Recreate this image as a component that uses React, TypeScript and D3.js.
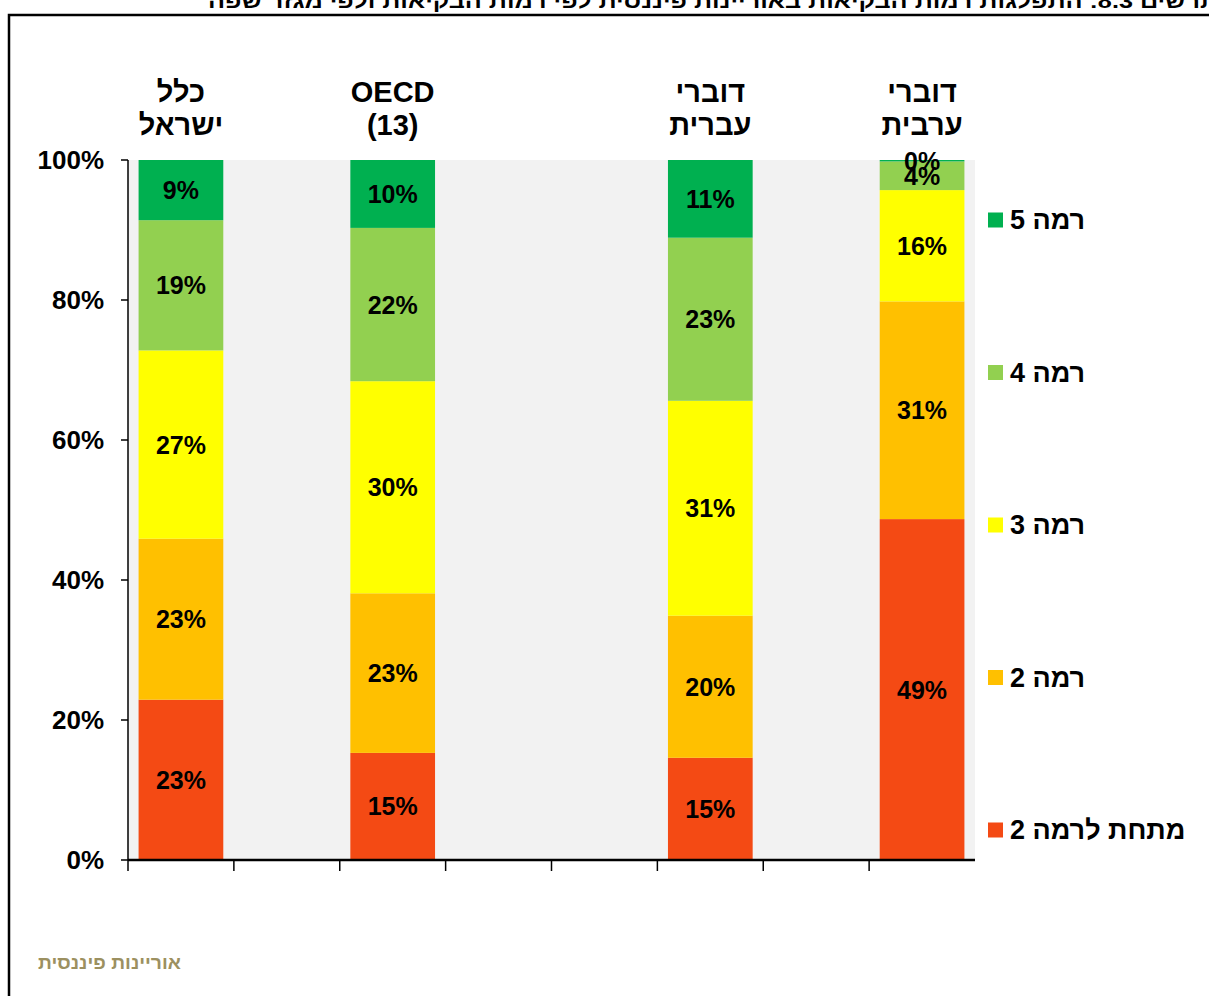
import { useMemo } from 'react';
import * as d3 from 'd3';

const WIDTH = 1209;
const HEIGHT = 996;
const MARGIN = { top: 160, right: 234, bottom: 136, left: 128 };

// categories (left to right) and levels (bottom to top)
const categories = ['כלל ישראל', 'OECD (13)', 'דוברי עברית', 'דוברי ערבית'];
const levels = ['מתחת לרמה 2', 'רמה 2', 'רמה 3', 'רמה 4', 'רמה 5'];
const levelColors = ['#F44A14', '#FFC000', '#FFFF00', '#92D050', '#00B050'];

// share of each level, in %
const belowLevel2 = [22.9, 15.3, 14.6, 48.7];
const level2 = [23.0, 22.8, 20.3, 31.1];
const level3 = [26.9, 30.3, 30.7, 15.9];
const level4 = [18.6, 21.9, 23.3, 4.1];
const level5 = [8.6, 9.7, 11.1, 0.2];

const yTicks = [0, 20, 40, 60, 80, 100];

const titleText =
  'תרשים 8.3: התפלגות רמות הבקיאות באוריינות פיננסית לפי רמות הבקיאות ולפי מגזר שפה';
const footerText = 'אוריינות פיננסית';

// band slots: empty slots leave the gaps between the groups
const SLOTS = ['s0', 'g1', 's1', 'g2', 'g3', 's2', 'g4', 's3'];
const SLOT_OF = ['s0', 's1', 's2', 's3'];

const FONT = 'Arial, "Liberation Sans", "DejaVu Sans", sans-serif';

const App = () => {
  const boundsWidth = WIDTH - MARGIN.left - MARGIN.right;
  const boundsHeight = HEIGHT - MARGIN.top - MARGIN.bottom;

  const rows = useMemo(
    () =>
      categories.map((c, i) => ({
        category: c,
        slot: SLOT_OF[i],
        [levels[0]]: belowLevel2[i],
        [levels[1]]: level2[i],
        [levels[2]]: level3[i],
        [levels[3]]: level4[i],
        [levels[4]]: level5[i],
      })),
    []
  );

  const series = d3.stack<any>().keys(levels)(rows);

  const xScale = d3
    .scaleBand()
    .domain(SLOTS)
    .range([0, boundsWidth])
    .paddingInner(0.2)
    .paddingOuter(0.1);
  const step = xScale.step();

  const yScale = d3.scaleLinear().domain([0, 100]).range([boundsHeight, 0]);

  const legendY = d3
    .scalePoint<string>()
    .domain(levels)
    .range([boundsHeight - 30, 60]);

  return (
    <svg
      width={WIDTH}
      height={HEIGHT}
      style={{ position: 'absolute', left: 0, top: 0, background: '#fff' }}
      fontFamily={FONT}
    >
      {/* outer frame, cut by the page edges */}
      <rect x={9} y={15} width={1400} height={1200} fill="#fff" stroke="#000" strokeWidth={2.5} />

      <text
        x={1218}
        y={8}
        textAnchor="end"
        fontSize={20}
        fontWeight="bold"
        textLength={1010}
        lengthAdjust="spacingAndGlyphs"
      >
        {titleText}
      </text>

      <g transform={`translate(${MARGIN.left},${MARGIN.top})`}>
        <rect x={0} y={0} width={boundsWidth} height={boundsHeight} fill="#F2F2F2" />

        {series.map((s, li) => (
          <g key={s.key} fill={levelColors[li]}>
            {s.map((d, ci) => (
              <rect
                key={ci}
                x={xScale(d.data.slot)}
                y={yScale(d[1])}
                width={xScale.bandwidth()}
                height={yScale(d[0]) - yScale(d[1])}
              />
            ))}
          </g>
        ))}

        {series.map((s) =>
          s.map((d, ci) => (
            <text
              key={s.key + ci}
              x={(xScale(d.data.slot) || 0) + xScale.bandwidth() / 2}
              y={yScale((d[0] + d[1]) / 2)}
              textAnchor="middle"
              dominantBaseline="central"
              fontSize={25}
              fontWeight="bold"
              fill="#000"
            >
              {Math.round(d[1] - d[0])}%
            </text>
          ))
        )}

        {/* category labels above the bars */}
        {categories.map((c, i) => {
          const cx = (xScale(SLOT_OF[i]) || 0) + xScale.bandwidth() / 2;
          return c.split(' ').map((line, li) => (
            <text
              key={c + li}
              x={cx}
              y={-68 + li * 33}
              textAnchor="middle"
              dominantBaseline="central"
              fontSize={29}
              fontWeight="bold"
            >
              {line}
            </text>
          ));
        })}

        {/* y axis */}
        <line x1={0} x2={0} y1={0} y2={boundsHeight} stroke="#000" strokeWidth={1.5} />
        {yTicks.map((t) => (
          <g key={t} transform={`translate(0,${yScale(t)})`}>
            <line x1={-7} x2={0} stroke="#000" strokeWidth={1.5} />
            <text
              x={-24}
              textAnchor="end"
              dominantBaseline="central"
              fontSize={26}
              fontWeight="bold"
            >
              {t}%
            </text>
          </g>
        ))}

        {/* x axis */}
        <line x1={0} x2={boundsWidth} y1={boundsHeight} y2={boundsHeight} stroke="#000" strokeWidth={2.5} />
        {SLOTS.map((s) => (
          <line
            key={s}
            x1={(xScale(s) || 0) - step * 0.1}
            x2={(xScale(s) || 0) - step * 0.1}
            y1={boundsHeight}
            y2={boundsHeight + 11}
            stroke="#000"
            strokeWidth={1.5}
          />
        ))}

        {/* legend */}
        {levels.map((l, i) => (
          <g key={l} transform={`translate(${boundsWidth + 13},${legendY(l)})`}>
            <rect x={0} y={-7.5} width={15} height={15} fill={levelColors[i]} />
            <text
              x={22}
              dominantBaseline="central"
              fontSize={27}
              fontWeight="bold"
            >
              {l}
            </text>
          </g>
        ))}
      </g>

      <text
        x={181}
        y={963}
        textAnchor="end"
        dominantBaseline="central"
        fontSize={18}
        fontWeight="bold"
        fill="#9C9060"
        textLength={143}
        lengthAdjust="spacingAndGlyphs"
      >
        {footerText}
      </text>
    </svg>
  );
};

export default App;
